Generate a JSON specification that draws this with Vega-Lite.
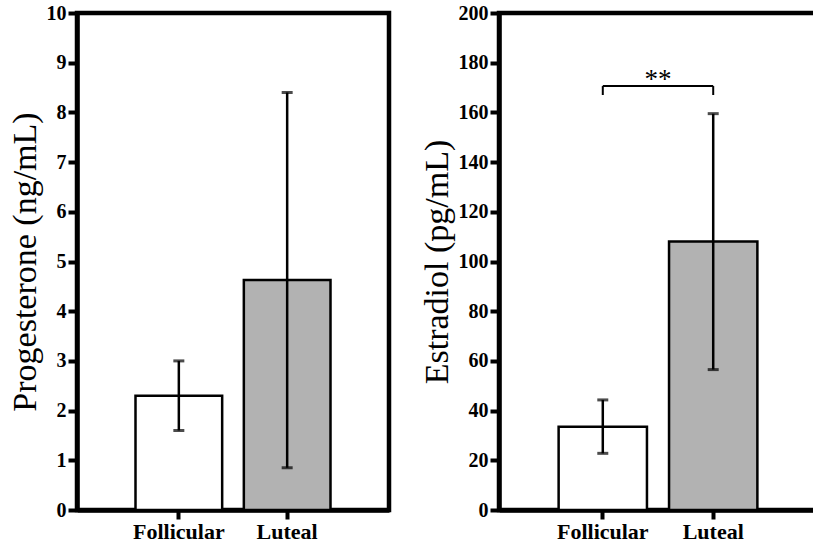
{
  "$schema": "https://vega.github.io/schema/vega-lite/v6.json",
  "padding": {"left": 5, "top": 0, "right": 0, "bottom": 0},
  "datasets": {
    "prog": [
      {"phase": "Follicular", "mean": 2.3, "lo": 1.6, "hi": 3.0},
      {"phase": "Luteal", "mean": 4.63, "lo": 0.85, "hi": 8.4}
    ],
    "estr": [
      {"phase": "Follicular", "mean": 33.5, "lo": 22.8, "hi": 44.3},
      {"phase": "Luteal", "mean": 108, "lo": 56.5, "hi": 159.5}
    ],
    "sig": [
      {"from": "Follicular", "to": "Luteal", "y": 170.6, "ylow": 167, "label": "**", "ytext": 167.5}
    ]
  },
  "spacing": 25,
  "hconcat": [
    {
      "width": 312,
      "height": 497,
      "data": {"name": "prog"},
      "encoding": {
        "x": {
          "field": "phase", "type": "nominal", "title": null,
          "scale": {"paddingInner": 0.2, "paddingOuter": 0.54},
          "axis": {"labelAngle": 0}
        }
      },
      "layer": [
        {
          "mark": {"type": "bar", "stroke": "black", "strokeWidth": 2.5},
          "encoding": {
            "y": {
              "field": "mean", "type": "quantitative", "title": "Progesterone (ng/mL)",
              "scale": {"domain": [0, 10]},
              "axis": {"values": [0, 1, 2, 3, 4, 5, 6, 7, 8, 9, 10]}
            },
            "color": {
              "field": "phase", "type": "nominal", "legend": null,
              "scale": {"domain": ["Follicular", "Luteal"], "range": ["#ffffff", "#b2b2b2"]}
            }
          }
        },
        {
          "mark": {"type": "rule", "color": "black", "strokeWidth": 2.5},
          "encoding": {"y": {"field": "lo", "type": "quantitative"}, "y2": {"field": "hi"}}
        },
        {
          "mark": {"type": "tick", "color": "black", "thickness": 3, "size": 11},
          "encoding": {"y": {"field": "lo", "type": "quantitative"}}
        },
        {
          "mark": {"type": "tick", "color": "black", "thickness": 3, "size": 11},
          "encoding": {"y": {"field": "hi", "type": "quantitative"}}
        }
      ]
    },
    {
      "width": 318,
      "height": 497,
      "layer": [
        {
          "data": {"name": "estr"},
          "mark": {"type": "bar", "stroke": "black", "strokeWidth": 2.5},
          "encoding": {
            "x": {
              "field": "phase", "type": "nominal", "title": null,
              "scale": {"domain": ["Follicular", "Luteal"], "paddingInner": 0.2, "paddingOuter": 0.54},
              "axis": {"labelAngle": 0}
            },
            "y": {
              "field": "mean", "type": "quantitative", "title": "Estradiol (pg/mL)",
              "scale": {"domain": [0, 200]},
              "axis": {"values": [0, 20, 40, 60, 80, 100, 120, 140, 160, 180, 200]}
            },
            "color": {
              "field": "phase", "type": "nominal", "legend": null,
              "scale": {"domain": ["Follicular", "Luteal"], "range": ["#ffffff", "#b2b2b2"]}
            }
          }
        },
        {
          "data": {"name": "estr"},
          "mark": {"type": "rule", "color": "black", "strokeWidth": 2.5},
          "encoding": {
            "x": {"field": "phase", "type": "nominal"},
            "y": {"field": "lo", "type": "quantitative"},
            "y2": {"field": "hi"}
          }
        },
        {
          "data": {"name": "estr"},
          "mark": {"type": "tick", "color": "black", "thickness": 3, "size": 11},
          "encoding": {
            "x": {"field": "phase", "type": "nominal"},
            "y": {"field": "lo", "type": "quantitative"}
          }
        },
        {
          "data": {"name": "estr"},
          "mark": {"type": "tick", "color": "black", "thickness": 3, "size": 11},
          "encoding": {
            "x": {"field": "phase", "type": "nominal"},
            "y": {"field": "hi", "type": "quantitative"}
          }
        },
        {
          "data": {"name": "sig"},
          "mark": {"type": "rule", "color": "black", "strokeWidth": 2},
          "encoding": {
            "x": {"field": "from", "type": "nominal"},
            "x2": {"field": "to"},
            "y": {"field": "y", "type": "quantitative"}
          }
        },
        {
          "data": {"name": "sig"},
          "mark": {"type": "rule", "color": "black", "strokeWidth": 2},
          "encoding": {
            "x": {"field": "from", "type": "nominal"},
            "y": {"field": "ylow", "type": "quantitative"},
            "y2": {"field": "y"}
          }
        },
        {
          "data": {"name": "sig"},
          "mark": {"type": "rule", "color": "black", "strokeWidth": 2},
          "encoding": {
            "x": {"field": "to", "type": "nominal"},
            "y": {"field": "ylow", "type": "quantitative"},
            "y2": {"field": "y"}
          }
        },
        {
          "data": {"name": "sig"},
          "mark": {"type": "text", "font": "Liberation Serif", "fontSize": 27, "baseline": "bottom", "color": "black"},
          "encoding": {
            "x": {"field": "from", "type": "nominal", "bandPosition": 1.125},
            "y": {"field": "ytext", "type": "quantitative"},
            "text": {"field": "label"}
          }
        }
      ]
    }
  ],
  "config": {
    "view": {"stroke": "black", "strokeWidth": 4.5},
    "font": "Liberation Serif",
    "axis": {
      "grid": false,
      "domainColor": "black",
      "domainWidth": 4.5,
      "tickColor": "black",
      "tickWidth": 4,
      "tickSize": 9,
      "labelFont": "Liberation Serif",
      "labelFontWeight": "bold",
      "labelFontSize": 20,
      "labelColor": "black",
      "labelPadding": 2,
      "titleFont": "Liberation Serif",
      "titleFontWeight": "normal",
      "titleFontSize": 34,
      "titleColor": "black",
      "titlePadding": 4
    },
    "axisX": {"labelFontSize": 22, "labelPadding": 2}
  }
}
